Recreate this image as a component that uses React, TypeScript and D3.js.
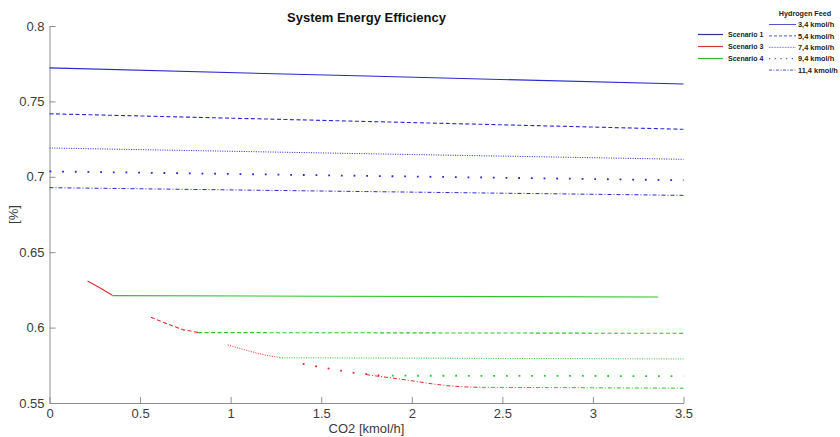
import React, { useEffect, useRef } from 'react';
import * as d3 from 'd3';

const W = 840;
const H = 437;

const feeds = ['3,4 kmol/h', '5,4 kmol/h', '7,4 kmol/h', '9,4 kmol/h', '11,4 kmol/h'];
const feedDash = ['none', '4,2.5', '1,1.4', '1.8,10.87', '4,2,1,2'];
const feedWidth = [1.1, 1.1, 1, 1.8, 1];

const scenarios = ['Scenario 1', 'Scenario 3', 'Scenario 4'];
const scenarioColors = ['#2828d4', '#dc2e2e', '#2fc42f'];

const xTicks = [0, 0.5, 1, 1.5, 2, 2.5, 3, 3.5];
const yTicks = [0.55, 0.6, 0.65, 0.7, 0.75, 0.8];

// Scenario 1 (blue), one line per hydrogen feed
const s1X = [0, 1.75, 3.5];
const s1Y = [
  [0.7722, 0.7668, 0.7615],
  [0.7418, 0.7367, 0.7315],
  [0.7191, 0.7153, 0.7116],
  [0.7036, 0.7006, 0.6977],
  [0.6928, 0.6902, 0.6877],
];

// Scenario 3 (red)
const s3X = [
  [0.21, 0.28, 0.347],
  [0.56, 0.65, 0.74, 0.82],
  [0.984, 1.1, 1.2, 1.27],
  [1.398, 1.542, 1.681, 1.821],
  [1.748, 1.935, 2.118, 2.211, 2.305, 2.387],
];
const s3Y = [
  [0.6309, 0.6262, 0.6214],
  [0.6068, 0.6025, 0.5985, 0.5968],
  [0.5885, 0.5845, 0.5815, 0.5802],
  [0.5759, 0.5728, 0.57, 0.5683],
  [0.5688, 0.5659, 0.5626, 0.5613, 0.5606, 0.5604],
];

// Scenario 4 (green)
const s4X = [
  [0.347, 1.5, 3.36],
  [0.82, 2.0, 3.5],
  [1.27, 2.4, 3.5],
  [1.89, 2.7, 3.5],
  [2.387, 3.0, 3.5],
];
const s4Y = [
  [0.6212, 0.6208, 0.6203],
  [0.5967, 0.5965, 0.5962],
  [0.58, 0.5796, 0.5792],
  [0.5681, 0.568, 0.5678],
  [0.5604, 0.5601, 0.5598],
];

const margin = { left: 49.5, right: W - 683.5, top: 26, bottom: H - 403 };

const App: React.FC = () => {
  const svgRef = useRef<SVGSVGElement | null>(null);

  useEffect(() => {
    if (!svgRef.current) return;
    const svg = d3.select(svgRef.current);
    svg.selectAll('*').remove();

    const x = d3.scaleLinear().domain([0, 3.5]).range([margin.left, W - margin.right]);
    const y = d3.scaleLinear().domain([0.55, 0.8]).range([H - margin.bottom, margin.top]);

    const line = d3
      .line<[number, number]>()
      .x((d) => x(d[0]))
      .y((d) => y(d[1]));

    const font = '"Liberation Sans", Arial, sans-serif';

    // axes
    const xAxis = svg
      .append('g')
      .attr('transform', `translate(0,${y(0.55)})`)
      .call(
        d3
          .axisBottom(x)
          .tickValues(xTicks)
          .tickSizeInner(-6)
          .tickSizeOuter(0)
          .tickPadding(6)
          .tickFormat((d) => String(d))
      );
    const yAxis = svg
      .append('g')
      .attr('transform', `translate(${x(0)},0)`)
      .call(
        d3
          .axisLeft(y)
          .tickValues(yTicks)
          .tickSizeInner(-6)
          .tickSizeOuter(0)
          .tickPadding(5)
          .tickFormat((d) => String(d))
      );
    [xAxis, yAxis].forEach((g) => {
      g.select('.domain').attr('stroke', '#8e8e8e');
      g.selectAll('.tick line').attr('stroke', '#8e8e8e');
      g.selectAll('.tick text')
        .attr('fill', '#3c3c3c')
        .style('font-family', font)
        .style('font-size', '13px');
    });

    const plot = svg.append('g');
    const drawSeries = (xs: number[], ys: number[], color: string, i: number) => {
      const pts = xs.map((v, k) => [v, ys[k]] as [number, number]);
      plot
        .append('path')
        .attr('d', line(pts))
        .attr('fill', 'none')
        .attr('stroke', color)
        .attr('stroke-width', feedWidth[i])
        .attr('stroke-dasharray', feedDash[i]);
    };

    s1Y.forEach((ys, i) => drawSeries(s1X, ys, scenarioColors[0], i));
    s4Y.forEach((ys, i) => drawSeries(s4X[i], ys, scenarioColors[2], i));
    s3Y.forEach((ys, i) => drawSeries(s3X[i], ys, scenarioColors[1], i));

    // title and labels
    svg
      .append('text')
      .attr('x', (x(0) + x(3.5)) / 2)
      .attr('y', 22)
      .attr('text-anchor', 'middle')
      .style('font-family', font)
      .style('font-size', '13px')
      .style('font-weight', 'bold')
      .attr('fill', '#111')
      .text('System Energy Efficiency');

    svg
      .append('text')
      .attr('x', (x(0) + x(3.5)) / 2)
      .attr('y', 433)
      .attr('text-anchor', 'middle')
      .style('font-family', font)
      .style('font-size', '13px')
      .attr('fill', '#3c3c3c')
      .text('CO2 [kmol/h]');

    svg
      .append('text')
      .attr('transform', `translate(18,${(y(0.55) + y(0.8)) / 2}) rotate(-90)`)
      .attr('text-anchor', 'middle')
      .style('font-family', font)
      .style('font-size', '13px')
      .attr('fill', '#3c3c3c')
      .text('[%]');

    // scenario legend
    const leg1 = svg.append('g');
    const legColors = ['#30309a', '#d03a3a', '#30b830'];
    scenarios.forEach((s, i) => {
      const ly = 34.5 + i * 12;
      leg1
        .append('line')
        .attr('x1', 698)
        .attr('x2', 723)
        .attr('y1', ly)
        .attr('y2', ly)
        .attr('stroke', legColors[i])
        .attr('stroke-width', 1.2);
      leg1
        .append('text')
        .attr('x', 728)
        .attr('y', ly + 2.5)
        .style('font-family', font)
        .style('font-size', '7px')
        .style('font-weight', 'bold')
        .attr('fill', '#222')
        .text(s);
    });

    // hydrogen feed legend
    const leg2 = svg.append('g');
    leg2
      .append('text')
      .attr('x', 805)
      .attr('y', 16)
      .attr('text-anchor', 'middle')
      .style('font-family', font)
      .style('font-size', '7.2px')
      .style('font-weight', 'bold')
      .attr('fill', '#222')
      .text('Hydrogen Feed');
    const legDash = ['none', '3,2', '0.8,0.8', '1.2,4.5', '3,1.5,1,1.5'];
    feeds.forEach((f, i) => {
      const ly = 24.5 + i * 11.4;
      leg2
        .append('line')
        .attr('x1', 769)
        .attr('x2', 796)
        .attr('y1', ly)
        .attr('y2', ly)
        .attr('stroke', '#5656c0')
        .attr('stroke-width', i === 3 ? 1.3 : 1)
        .attr('stroke-dasharray', legDash[i]);
      leg2
        .append('text')
        .attr('x', 798)
        .attr('y', ly + 2.6)
        .style('font-family', font)
        .style('font-size', '7.4px')
        .style('font-weight', 'bold')
        .attr('fill', '#222')
        .text(f);
    });
  }, []);

  return (
    <svg
      ref={svgRef}
      width={W}
      height={H}
      style={{ position: 'absolute', left: 0, top: 0, background: '#fff' }}
    />
  );
};

export default App;
